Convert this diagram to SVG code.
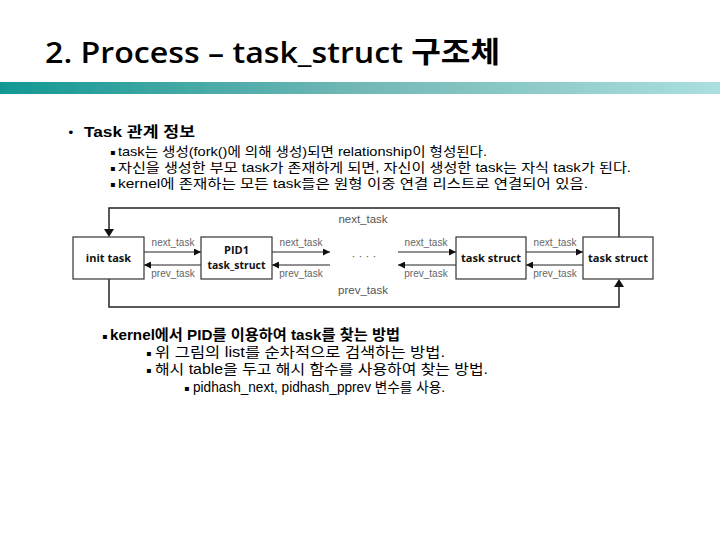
<svg xmlns="http://www.w3.org/2000/svg" width="720" height="540" viewBox="0 0 720 540">
<defs>
<linearGradient id="band" x1="0" y1="0" x2="1" y2="0">
<stop offset="0" stop-color="#129893"/>
<stop offset="0.5" stop-color="#72b8b6"/>
<stop offset="1" stop-color="#acdfdf"/>
</linearGradient>
<marker id="ah" viewBox="0 0 10 10" refX="10" refY="5" markerWidth="7" markerHeight="7" markerUnits="userSpaceOnUse" orient="auto">
<path d="M0,0 L10,5 L0,10 z" fill="#111"/>
</marker>
<style>
.title{font-family:'Open Sans','Noto Sans CJK KR',sans-serif;fill:#000;font-size:29px;font-weight:600}
.t{font-family:'Liberation Sans','Noto Sans CJK KR',sans-serif;fill:#000}
.h{font-size:14.5px;font-weight:bold}
.b{font-size:13px}
.b2{font-size:14px}
.bu{font-family:'DejaVu Sans',sans-serif;font-size:8px;fill:#000}
.bu1{font-family:'DejaVu Sans',sans-serif;font-size:13px;fill:#000}
.box{fill:#fff;stroke:#333;stroke-width:1.2}
.bt{font-family:'Open Sans','Liberation Sans',sans-serif;font-size:11px;font-weight:bold;fill:#111;text-anchor:middle}
.lb{font-family:'Liberation Sans',sans-serif;font-size:10px;fill:#666;text-anchor:middle}
.lb2{font-family:'Liberation Sans',sans-serif;font-size:11.5px;fill:#555;text-anchor:middle}
.ar{stroke:#222;stroke-width:1;fill:none;marker-end:url(#ah)}
.lp{stroke:#222;stroke-width:1.5;fill:none}
</style>
</defs>
<rect width="720" height="540" fill="#fff"/>
<text class="title" x="45" y="63" textLength="455" lengthAdjust="spacingAndGlyphs">2. Process – task_struct 구조체</text>
<rect x="0" y="82" width="720" height="12" fill="url(#band)"/>

<text class="bu1" x="67" y="137">•</text>
<text class="t h" x="84" y="137" textLength="111" lengthAdjust="spacingAndGlyphs">Task 관계 정보</text>
<text class="bu" x="110" y="155">▪</text>
<text class="t b" x="118" y="156" textLength="369" lengthAdjust="spacingAndGlyphs">task는 생성(fork()에 의해 생성)되면 relationship이 형성된다.</text>
<text class="bu" x="110" y="171">▪</text>
<text class="t b" x="118" y="172" textLength="513" lengthAdjust="spacingAndGlyphs">자신을 생성한 부모 task가 존재하게 되면, 자신이 생성한 task는 자식 task가 된다.</text>
<text class="bu" x="110" y="187">▪</text>
<text class="t b" x="118" y="188" textLength="470" lengthAdjust="spacingAndGlyphs">kernel에 존재하는 모든 task들은 원형 이중 연결 리스트로 연결되어 있음.</text>

<g id="connectors">
<path class="lp" d="M619,237 V208 H109 V230"/>
<path d="M104,229 L109,237 L114,229 z" fill="#111"/>
<path class="lp" d="M109,279 V307 H619 V287"/>
<path d="M614,287 L619,279 L624,287 z" fill="#111"/>
<line class="ar" x1="144" y1="252" x2="201" y2="252"/>
<line class="ar" x1="201" y1="265" x2="144" y2="265"/>
<line class="ar" x1="272" y1="252" x2="330" y2="252"/>
<line class="ar" x1="330" y1="265" x2="272" y2="265"/>
<line class="ar" x1="398" y1="252" x2="456" y2="252"/>
<line class="ar" x1="456" y1="265" x2="398" y2="265"/>
<line class="ar" x1="526" y1="252" x2="583" y2="252"/>
<line class="ar" x1="583" y1="265" x2="526" y2="265"/>
<text class="lb" x="173" y="246">next_task</text>
<text class="lb" x="173" y="277">prev_task</text>
<text class="lb" x="301" y="246">next_task</text>
<text class="lb" x="301" y="277">prev_task</text>
<text class="lb" x="426" y="246">next_task</text>
<text class="lb" x="426" y="277">prev_task</text>
<text class="lb" x="555" y="246">next_task</text>
<text class="lb" x="555" y="277">prev_task</text>
<text class="lb2" x="363" y="223">next_task</text>
<text class="lb2" x="363" y="294">prev_task</text>
<text class="lb2" x="364" y="260">· · · ·</text>
</g>

<g id="init-task">
<rect class="box" x="73" y="237" width="71" height="42"/>
<text class="bt" x="108.5" y="262">init task</text>
</g>
<g id="pid1">
<rect class="box" x="201" y="237" width="71" height="42"/>
<text class="bt" x="236.5" y="254">PID1</text>
<text class="bt" x="236.5" y="269" textLength="58" lengthAdjust="spacingAndGlyphs">task_struct</text>
</g>
<g id="task3">
<rect class="box" x="456" y="237" width="70" height="42"/>
<text class="bt" x="491" y="262" textLength="60" lengthAdjust="spacingAndGlyphs">task struct</text>
</g>
<g id="task4">
<rect class="box" x="583" y="237" width="70" height="42"/>
<text class="bt" x="618" y="262" textLength="60" lengthAdjust="spacingAndGlyphs">task struct</text>
</g>

<text class="bu" x="102" y="339">▪</text>
<text class="t h" x="110" y="340" textLength="290" lengthAdjust="spacingAndGlyphs">kernel에서 PID를 이용하여 task를 찾는 방법</text>
<text class="bu" x="146" y="356">▪</text>
<text class="t b2" x="155" y="357" textLength="290" lengthAdjust="spacingAndGlyphs">위 그림의 list를 순차적으로 검색하는 방법.</text>
<text class="bu" x="146" y="373">▪</text>
<text class="t b2" x="155" y="374" textLength="333" lengthAdjust="spacingAndGlyphs">해시 table을 두고 해시 함수를 사용하여 찾는 방법.</text>
<text class="bu" x="184" y="391">▪</text>
<text class="t b2" x="193" y="392" textLength="252" lengthAdjust="spacingAndGlyphs">pidhash_next, pidhash_pprev 변수를 사용.</text>
</svg>
